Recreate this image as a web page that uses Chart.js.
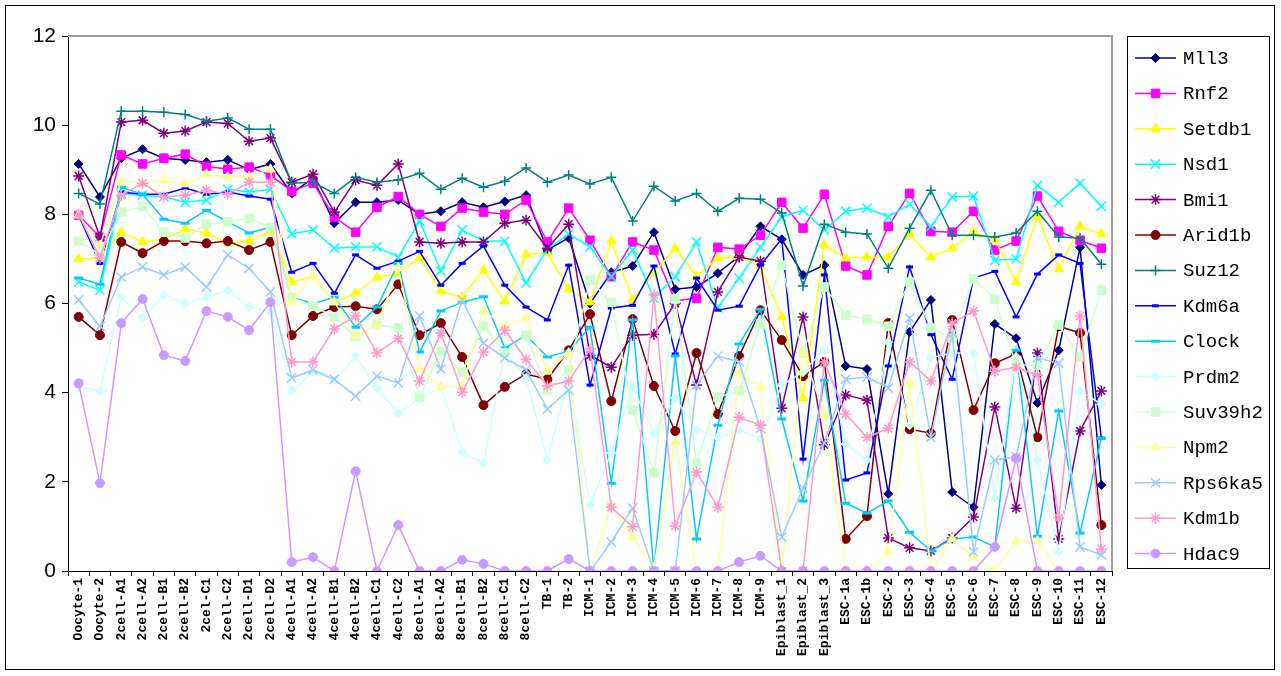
<!DOCTYPE html>
<html>
<head>
<meta charset="utf-8">
<script src="https://cdn.jsdelivr.net/npm/chart.js@4.4.1/dist/chart.umd.min.js"></script>
<style>
  html, body { margin: 0; padding: 0; background: #fff; }
  #wrap { width: 1281px; height: 676px; }
</style>
</head>
<body>
<div id="wrap"><canvas id="myChart" width="1281" height="676"></canvas></div>
<script>
const categories = ['Oocyte-1', 'Oocyte-2', '2cell-A1', '2cell-A2', '2cell-B1', '2cell-B2', '2cel-C1', '2cell-C2', '2cell-D1', '2cell-D2',
  '4cell-A1', '4cell-A2', '4cell-B1', '4cell-B2', '4cell-C1', '4cell-C2',
  '8cell-A1', '8cell-A2', '8cell-B1', '8cell-B2', '8cell-C1', '8cell-C2', 'TB-1', 'TB-2',
  'ICM-1', 'ICM-2', 'ICM-3', 'ICM-4', 'ICM-5', 'ICM-6', 'ICM-7', 'ICM-8', 'ICM-9',
  'Epiblast_1', 'Epiblast_2', 'Epiblast_3', 'ESC-1a', 'ESC-1b',
  'ESC-2', 'ESC-3', 'ESC-4', 'ESC-5', 'ESC-6', 'ESC-7', 'ESC-8', 'ESC-9', 'ESC-10', 'ESC-11', 'ESC-12'];

const yTicks = [0, 2, 4, 6, 8, 10, 12];

const mll3 = [9.13, 8.39, 9.26, 9.46, 9.26, 9.22, 9.17, 9.22, 9.0, 9.13, 8.47, 8.81, 7.8, 8.27, 8.27, 8.32, 8.0, 8.07, 8.27, 8.16, 8.29, 8.43, 7.2, 7.47, 6.0, 6.7, 6.84, 7.6, 6.32, 6.37, 6.68, 7.06, 7.73, 7.44, 6.64, 6.86, 4.6, 4.53, 1.73, 5.36, 6.08, 1.77, 1.43, 5.54, 5.22, 3.77, 4.95, 7.26, 1.93];
const rnf2 = [7.98, 7.49, 9.33, 9.13, 9.26, 9.35, 9.08, 9.01, 9.06, 8.88, 8.52, 8.7, 7.94, 7.6, 8.16, 8.4, 8.0, 7.73, 8.14, 8.05, 8.0, 8.32, 7.38, 8.14, 7.42, 6.6, 7.38, 7.2, 6.06, 6.12, 7.26, 7.22, 7.53, 8.27, 7.69, 8.45, 6.84, 6.64, 7.73, 8.47, 7.62, 7.6, 8.07, 7.2, 7.4, 8.41, 7.62, 7.42, 7.24];
const setdb1 = [7.0, 7.02, 7.6, 7.38, 7.44, 7.67, 7.58, 7.35, 7.4, 7.62, 6.48, 6.61, 6.03, 6.23, 6.59, 6.68, 7.02, 6.28, 6.14, 6.75, 6.05, 7.1, 7.13, 6.32, 6.03, 7.4, 6.08, 6.68, 7.24, 6.61, 7.02, 7.04, 6.84, 5.7, 3.88, 7.31, 7.02, 7.04, 7.04, 7.56, 7.04, 7.24, 7.6, 7.44, 6.48, 7.96, 6.77, 7.73, 7.56];
const nsd1 = [6.48, 6.3, 8.47, 8.43, 8.39, 8.27, 8.32, 8.56, 8.5, 8.56, 7.56, 7.65, 7.24, 7.27, 7.27, 7.04, 7.85, 6.73, 7.65, 7.4, 7.4, 6.46, 7.22, 7.56, 7.27, 6.6, 7.2, 6.12, 6.6, 7.38, 5.9, 6.57, 7.27, 7.94, 8.09, 7.65, 8.07, 8.14, 7.94, 8.23, 7.73, 8.39, 8.41, 6.97, 7.0, 8.65, 8.27, 8.7, 8.18];
const bmi1 = [8.86, 7.49, 10.07, 10.11, 9.82, 9.87, 10.07, 10.04, 9.64, 9.71, 8.72, 8.9, 8.05, 8.77, 8.65, 9.13, 7.38, 7.35, 7.38, 7.38, 7.8, 7.87, 7.24, 7.78, 4.84, 4.57, 5.29, 5.31, 6.0, 4.17, 6.26, 7.04, 6.95, 3.65, 5.7, 2.83, 3.95, 3.83, 0.74, 0.52, 0.45, 0.74, 1.21, 3.68, 1.41, 4.89, 0.72, 3.14, 4.04];
const arid1b = [5.7, 5.29, 7.38, 7.13, 7.4, 7.4, 7.35, 7.4, 7.2, 7.38, 5.29, 5.72, 5.92, 5.94, 5.87, 6.43, 5.29, 5.56, 4.8, 3.72, 4.13, 4.42, 4.3, 4.95, 5.76, 3.81, 5.65, 4.15, 3.14, 4.89, 3.52, 4.82, 5.85, 5.18, 4.37, 4.69, 0.72, 1.23, 5.56, 3.18, 3.09, 5.63, 3.61, 4.66, 4.87, 3.0, 5.49, 5.34, 1.03];
const suz12 = [8.47, 8.23, 10.31, 10.31, 10.29, 10.24, 10.09, 10.16, 9.91, 9.91, 8.7, 8.72, 8.47, 8.83, 8.72, 8.77, 8.92, 8.56, 8.81, 8.61, 8.74, 9.04, 8.72, 8.88, 8.68, 8.83, 7.85, 8.63, 8.3, 8.47, 8.07, 8.36, 8.34, 8.03, 6.39, 7.78, 7.6, 7.56, 6.79, 7.69, 8.54, 7.53, 7.53, 7.49, 7.58, 8.07, 7.49, 7.47, 6.88];
const kdm6a = [7.98, 6.9, 8.5, 8.45, 8.45, 8.59, 8.45, 8.5, 8.41, 8.34, 6.7, 6.9, 6.23, 7.09, 6.79, 6.95, 7.17, 6.41, 6.9, 7.29, 6.41, 5.92, 5.63, 6.86, 4.17, 5.9, 5.96, 6.84, 4.87, 6.57, 5.85, 5.94, 6.86, 7.45, 2.51, 6.64, 2.04, 2.2, 4.6, 6.82, 5.3, 4.3, 6.57, 6.72, 5.7, 6.66, 7.09, 6.9, 2.98];
const clock = [6.57, 6.43, 8.61, 8.45, 7.89, 7.8, 8.09, 7.83, 7.58, 7.71, 6.14, 6.0, 6.14, 5.47, 5.92, 6.9, 4.91, 5.83, 6.03, 6.15, 5.0, 5.29, 4.8, 4.93, 5.47, 1.97, 5.63, 0.02, 4.82, 0.72, 3.27, 5.09, 5.87, 3.41, 1.57, 4.28, 1.52, 1.3, 1.57, 0.87, 0.45, 0.72, 0.76, 0.54, 4.95, 0.78, 3.59, 0.85, 2.98];
const prdm2 = [4.13, 4.04, 6.14, 5.67, 6.19, 6.0, 6.14, 6.3, 5.92, 5.81, 4.04, 4.46, 4.28, 4.82, 4.1, 3.54, 3.85, 4.13, 2.67, 2.42, 4.91, 4.33, 2.49, 4.35, 1.48, 2.65, 4.13, 3.09, 3.88, 3.18, 3.0, 3.16, 2.96, 4.17, 4.46, 4.98, 2.85, 2.49, 5.13, 3.27, 4.78, 4.89, 4.89, 1.64, 4.8, 2.49, 0.43, 4.04, 3.74];
const suv39h2 = [7.4, 7.1, 8.05, 8.18, 7.6, 7.47, 7.78, 7.83, 7.91, 7.71, 6.14, 5.94, 5.7, 5.25, 5.52, 5.45, 3.9, 4.93, 4.46, 5.49, 4.89, 5.29, 4.06, 4.51, 6.52, 6.03, 3.61, 2.2, 6.1, 2.42, 3.9, 4.04, 5.54, 6.86, 4.89, 6.37, 5.74, 5.65, 5.49, 6.48, 5.45, 5.22, 6.55, 6.1, 4.62, 4.62, 5.52, 4.8, 6.3];
const npm2 = [7.98, 7.3, 8.74, 8.69, 8.77, 8.68, 8.9, 8.84, 8.85, 9.01, 6.03, 6.61, 6.03, 5.29, 5.5, 6.8, 4.53, 4.13, 4.13, 5.85, 5.49, 5.67, 4.48, 4.89, 0.02, 1.48, 0.76, 0.07, 2.9, 0.0, 0.0, 4.44, 4.13, 0.0, 4.9, 3.5, 0.0, 0.0, 0.43, 4.22, 0.0, 0.72, 0.31, 0.0, 0.67, 0.67, 0.0, 0.0, 0.0];
const rps6ka5 = [6.08, 5.49, 6.59, 6.82, 6.64, 6.82, 6.37, 7.09, 6.79, 6.26, 4.33, 4.51, 4.3, 3.92, 4.37, 4.22, 5.72, 4.53, 6.08, 5.11, 4.78, 4.51, 3.63, 4.06, 0.0, 0.65, 1.41, 0.0, 0.0, 4.17, 4.82, 4.69, 3.2, 0.76, 1.86, 2.87, 4.3, 4.35, 4.1, 5.67, 3.0, 5.34, 0.43, 2.49, 2.56, 4.78, 4.66, 0.54, 0.36];
const kdm1b = [8.0, 7.02, 8.43, 8.7, 8.39, 8.43, 8.54, 8.45, 8.72, 8.72, 4.69, 4.69, 5.43, 5.72, 4.89, 5.22, 4.26, 5.34, 4.01, 4.91, 5.4, 4.75, 4.15, 4.26, 4.98, 1.43, 0.99, 6.19, 1.01, 2.22, 1.43, 3.45, 3.27, 0.0, 0.0, 4.69, 3.52, 3.0, 3.2, 4.69, 4.26, 5.56, 5.83, 4.48, 4.57, 4.39, 1.19, 5.72, 0.49];
const hdac9 = [4.21, 1.97, 5.56, 6.1, 4.84, 4.71, 5.83, 5.7, 5.4, 6.03, 0.2, 0.31, 0, 2.24, 0, 1.03, 0, 0, 0.25, 0.16, 0, 0, 0, 0.27, 0, 0, 0, 0, 0, 0, 0, 0.2, 0.34, 0, 0, 0, 0, 0, 0, 0, 0, 0, 0, 0.54, 2.53, 0, 0, 0, 0];

// name, values, colour, marker, marker radius, filled marker?
const series = [
  ['Mll3', mll3, '#000080', 'rectRot', 4.5, true],
  ['Rnf2', rnf2, '#FF00FF', 'rect', 6, true],
  ['Setdb1', setdb1, '#FFFF00', 'triangle', 5.5, true],
  ['Nsd1', nsd1, '#00FFFF', 'crossRot', 6.5, false],
  ['Bmi1', bmi1, '#800080', 'star', 5.5, false],
  ['Arid1b', arid1b, '#800000', 'circle', 4.5, true],
  ['Suz12', suz12, '#008080', 'cross', 5, false],
  ['Kdm6a', kdm6a, '#0000FF', 'line', 3.5, false],
  ['Clock', clock, '#00CCFF', 'line', 4.5, false],
  ['Prdm2', prdm2, '#CCFFFF', 'rectRot', 4.5, true],
  ['Suv39h2', suv39h2, '#CCFFCC', 'rect', 6, true],
  ['Npm2', npm2, '#FFFF99', 'triangle', 5.5, true],
  ['Rps6ka5', rps6ka5, '#99CCFF', 'crossRot', 6.5, false],
  ['Kdm1b', kdm1b, '#FF99CC', 'star', 5.5, false],
  ['Hdac9', hdac9, '#CC99FF', 'circle', 4.5, true]
];

const datasets = series.map(([name, values, color, style, r, filled], i) => ({
  label: name,
  data: values,
  borderColor: color,
  backgroundColor: color,
  borderWidth: 1.5,
  pointStyle: style,
  pointRadius: r,
  pointBorderWidth: style === 'line' ? 3 : (filled ? 1 : 1.5),
  pointBackgroundColor: color,
  pointBorderColor: color,
  tension: 0,
  order: series.length - i   // later series drawn on top
}));

// frame of the chart, box round the plot area, and the legend on the right
const frames = {
  id: 'frames',
  beforeDatasetsDraw(chart) {
    const { ctx, chartArea: a } = chart;
    ctx.save();
    ctx.strokeStyle = '#000';
    ctx.lineWidth = 1;
    ctx.strokeRect(5.5, 5.5, 1269, 664);
    ctx.strokeStyle = '#a0a0a0';
    ctx.lineWidth = 2;
    ctx.beginPath();
    ctx.moveTo(a.left, a.top);
    ctx.lineTo(a.right, a.top);
    ctx.lineTo(a.right, a.bottom);
    ctx.stroke();
    ctx.restore();
  },
  afterDraw(chart) {
    const { ctx } = chart;
    ctx.save();
    ctx.strokeStyle = '#000';
    ctx.lineWidth = 1;
    ctx.strokeRect(1127.5, 36.5, 142, 532);
    chart.data.datasets.forEach((ds, i) => {
      const y = 58 + i * 35.4;
      ctx.strokeStyle = ds.borderColor;
      ctx.lineWidth = 1.5;
      ctx.beginPath();
      ctx.moveTo(1135, y);
      ctx.lineTo(1176, y);
      ctx.stroke();
      ctx.fillStyle = ds.pointBackgroundColor;
      ctx.strokeStyle = ds.pointBorderColor;
      ctx.lineWidth = ds.pointBorderWidth;
      Chart.helpers.drawPoint(ctx, { pointStyle: ds.pointStyle, radius: ds.pointRadius, rotation: 0, borderWidth: ds.pointBorderWidth }, 1155.5, y);
      ctx.fillStyle = '#000';
      ctx.font = '19px "Liberation Mono", monospace';
      ctx.textBaseline = 'middle';
      ctx.textAlign = 'left';
      ctx.fillText(ds.label, 1183, y + 1);
    });
    ctx.restore();
  }
};

const ctx = document.getElementById('myChart').getContext('2d');
const geneChart = new Chart(ctx, {
  type: 'line',
  data: { labels: categories, datasets },
  options: {
    responsive: false,
    animation: false,
    devicePixelRatio: 1,
    layout: { padding: { left: 0, top: 36, right: 169, bottom: 0 } },
    plugins: { legend: { display: false }, tooltip: { enabled: false } },
    scales: {
      x: {
        type: 'category',
        offset: true,
        afterFit: (scale) => { scale.height = 105; },
        grid: { offset: true, drawOnChartArea: false, drawTicks: true, tickLength: 5, color: '#000' },
        border: { color: '#000', width: 1 },
        ticks: {
          autoSkip: false, maxRotation: 90, minRotation: 90, padding: 2,
          color: '#000', font: { family: '"Liberation Mono", monospace', size: 13, weight: 'bold' }
        }
      },
      y: {
        min: 0, max: 12,
        afterFit: (scale) => { scale.width = 68; },
        afterBuildTicks: (scale) => { scale.ticks = yTicks.map(v => ({ value: v })); },
        grid: { drawOnChartArea: false, drawTicks: true, tickLength: 6, color: '#000' },
        border: { color: '#000', width: 1 },
        ticks: { color: '#000', padding: 6, font: { family: '"Liberation Sans", Arial, sans-serif', size: 21 } }
      }
    }
  },
  plugins: [frames]
});
</script>
</body>
</html>
